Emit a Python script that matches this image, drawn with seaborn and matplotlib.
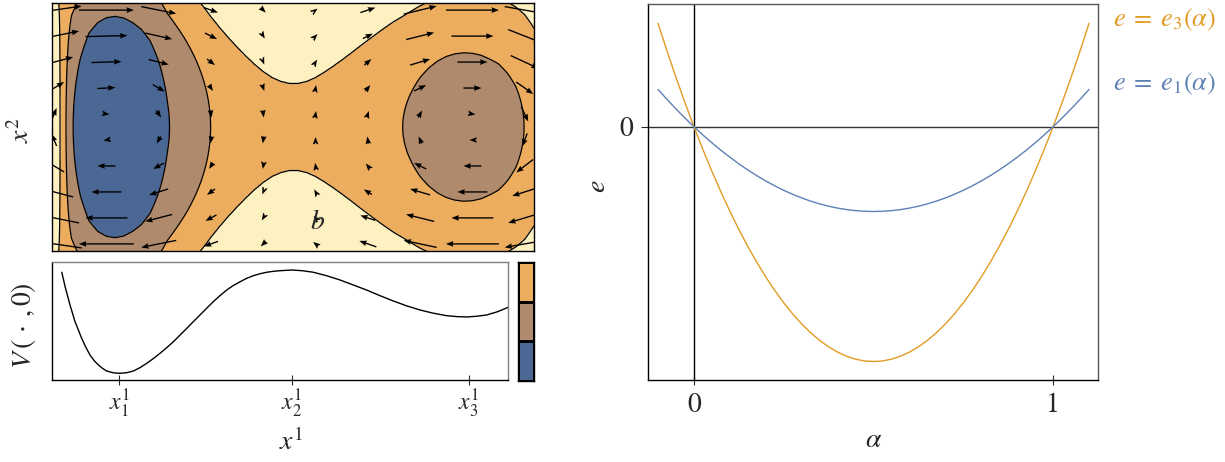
import numpy as np
import matplotlib
matplotlib.use("Agg")
import matplotlib.pyplot as plt
from matplotlib.colors import ListedColormap
import seaborn as sns

sns.set_style("ticks")
plt.rcParams['font.family'] = ['STIXGeneral', 'DejaVu Serif']
plt.rcParams['mathtext.fontset'] = 'stix'

# colours
c_blue, c_brown, c_orange, c_cream = '#4B6793', '#B08A6C', '#ECAD5F', '#FEF1C1'
c_e1, c_e3 = '#5E81B5', '#E19C24'

# top panel: V(x1, x2) ~ W(x1) + K(x1) * (x2)^2, read along x1
x1_nodes = np.round(np.arange(-1.40, 1.451, 0.05), 2)
W_nodes = [4.5, 3.0, 1.52, 0.085, -0.38, -0.72, -0.89, -0.975, -1.00, -0.97,
           -0.89, -0.78, -0.61, -0.35, -0.05, 0.16, 0.365, 0.575, 0.79, 1.01,
           1.195, 1.35, 1.48, 1.59, 1.68, 1.75, 1.80, 1.83, 1.845, 1.845,
           1.83, 1.80, 1.755, 1.70, 1.635, 1.56, 1.475, 1.385, 1.29, 1.19,
           1.09, 1.0, 0.90, 0.80, 0.715, 0.645, 0.594, 0.563, 0.55, 0.556,
           0.58, 0.624, 0.688, 0.772, 0.874, 1.01, 1.22, 1.40]
K_nodes = [-1.0, -0.8, 0.3, 1.125] + [1.25] * 48 + [1.2] * 6
levels = [-5, 0, 1, 2, 10]

# arrows (pixel lengths), rows top -> bottom
arrow_x1 = [-1.35, -1.05, -0.75, -0.45, -0.15, 0.15, 0.45, 0.75, 1.05, 1.35]
arrow_x2 = [0.945, 0.735, 0.525, 0.315, 0.105, -0.105, -0.315, -0.525, -0.735, -0.945]
U_px = [[55, 55, 35, 14, 5, 4, 15, 33, 53, 40],
        [50, 42, 27, 12, 3, 4, 10, 28, 42, 33],
        [38, 30, 20, 8, 2, 3, 7, 20, 30, 28],
        [20, 18, 12, 4, 2, 1, 5, 12, 18, 17],
        [5, 6, 5, 1, 1, 1, 2, 4, 6, 7],
        [-5, -6, -4, -1, -1, 0, -1, -3, -6, -5],
        [-20, -18, -11, -4, -1, -1, -4, -12, -18, -17],
        [-38, -30, -19, -8, -2, -3, -8, -20, -30, -25],
        [-50, -42, -27, -11, -3, -4, -15, -28, -42, -33],
        [-55, -55, -35, -14, -5, -5, -17, -33, -53, -40]]
V_px = [[8, 0, -7, -5, -5, 3, 5, 8, 0, -7],
        [10, 1, -6, -6, -5, 4, 5, 7, 0, -13],
        [10, 1, -5, -6, -5, 5, 6, 6, 0, -13],
        [12, 1, -7, -6, -6, 6, 6, 6, 0, -12],
        [12, -1, -7, -7, -7, 6, 6, 7, -1, -15],
        [12, -1, -7, -7, -7, 6, 7, 7, 0, -13],
        [12, 0, -6, -6, -6, 6, 5, 6, 0, -13],
        [10, 0, -6, -6, -5, 5, 5, 6, 0, -8],
        [10, 0, -7, -6, -5, 4, 5, 7, 0, -10],
        [8, 0, -7, -5, -5, 4, 6, 7, 0, -7]]

# bottom panel: V(., 0)
v0_x = [-1.306, -1.287, -1.259, -1.230, -1.192, -1.168, -1.144, -1.120, -1.096, -1.072,
        -1.048, -1.010, -0.972, -0.934, -0.896, -0.858, -0.819, -0.780, -0.742, -0.704,
        -0.666, -0.628, -0.589, -0.551, -0.513, -0.475, -0.437, -0.398, -0.360, -0.322,
        -0.283, -0.245, -0.207, -0.168, -0.130, -0.092, -0.054, 0.013, 0.075, 0.137,
        0.213, 0.290, 0.366, 0.443, 0.519, 0.596, 0.672, 0.749, 0.825, 0.902,
        0.960, 1.017, 1.075, 1.132, 1.194, 1.256]
v0_y = [0.911, 0.789, 0.635, 0.494, 0.354, 0.278, 0.213, 0.165, 0.129, 0.100,
        0.078, 0.063, 0.059, 0.064, 0.078, 0.106, 0.143, 0.184, 0.228, 0.275,
        0.325, 0.381, 0.438, 0.495, 0.551, 0.607, 0.663, 0.714, 0.761, 0.799,
        0.831, 0.860, 0.882, 0.899, 0.911, 0.919, 0.924, 0.930, 0.924, 0.911,
        0.882, 0.846, 0.804, 0.761, 0.714, 0.669, 0.628, 0.593, 0.566, 0.545,
        0.537, 0.534, 0.540, 0.551, 0.578, 0.616]
x1_ticks = [-0.976, 0.013, 1.030]
x1_ticklabels = [r'$x_1^1$', r'$x_2^1$', r'$x_3^1$']

# right panel: e1(alpha), e3(alpha)
alpha = [-0.100, -0.075, -0.050, -0.025, 0.000, 0.025, 0.050, 0.075, 0.100, 0.125,
         0.150, 0.175, 0.200, 0.225, 0.250, 0.275, 0.300, 0.325, 0.350, 0.375,
         0.400, 0.425, 0.450, 0.475, 0.500, 0.525, 0.550, 0.575, 0.600, 0.625,
         0.650, 0.675, 0.700, 0.725, 0.750, 0.775, 0.800, 0.825, 0.850, 0.875,
         0.900, 0.925, 0.950, 0.975, 1.000, 1.025, 1.050, 1.075, 1.100]
e1 = [0.1100, 0.0806, 0.0525, 0.0256, 0.0, -0.0244, -0.0475, -0.0694, -0.0900, -0.1094,
      -0.1275, -0.1444, -0.1600, -0.1744, -0.1875, -0.1994, -0.2100, -0.2194, -0.2275, -0.2344,
      -0.2400, -0.2444, -0.2475, -0.2494, -0.2500, -0.2494, -0.2475, -0.2444, -0.2400, -0.2344,
      -0.2275, -0.2194, -0.2100, -0.1994, -0.1875, -0.1744, -0.1600, -0.1444, -0.1275, -0.1094,
      -0.0900, -0.0694, -0.0475, -0.0244, 0.0, 0.0256, 0.0525, 0.0806, 0.1100]
e3 = [0.3047, 0.2233, 0.1454, 0.0710, 0.0, -0.0675, -0.1316, -0.1922, -0.2493, -0.3030,
      -0.3532, -0.3999, -0.4432, -0.4830, -0.5194, -0.5523, -0.5817, -0.6077, -0.6302, -0.6492,
      -0.6648, -0.6769, -0.6856, -0.6908, -0.6925, -0.6908, -0.6856, -0.6769, -0.6648, -0.6492,
      -0.6302, -0.6077, -0.5817, -0.5523, -0.5194, -0.4830, -0.4432, -0.3999, -0.3532, -0.3030,
      -0.2493, -0.1922, -0.1316, -0.0675, 0.0, 0.0710, 0.1454, 0.2233, 0.3047]

W_px, H_px = 1225, 462
fig = plt.figure(figsize=(W_px / 100, H_px / 100), dpi=100)


def box(x0, y0, x1, y1):
    return [x0 / W_px, 1 - y1 / H_px, (x1 - x0) / W_px, (y1 - y0) / H_px]


def ftext(x, y, s, **kw):
    fig.text(x / W_px, 1 - y / H_px, s, **kw)


# ---- top panel: contours + arrows
ax_top = fig.add_axes(box(51.7, 3.3, 534.3, 250.7))
x2_grid = np.linspace(-1.05, 1.05, 151)
X1, X2 = np.meshgrid(x1_nodes, x2_grid)
Z = np.array(W_nodes)[None, :] + np.array(K_nodes)[None, :] * X2 ** 2
ax_top.contourf(X1, X2, Z, levels=levels, colors=[c_blue, c_brown, c_orange, c_cream])
ax_top.contour(X1, X2, Z, levels=levels[1:4], colors='black', linewidths=0.9)
AX, AY = np.meshgrid(arrow_x1, arrow_x2)
ax_top.quiver(AX, AY, np.array(U_px) / 174.3, np.array(V_px) / 123.7,
              angles='xy', scale_units='xy', scale=1, pivot='middle',
              width=0.0028, headwidth=4.2, headlength=5.5, headaxislength=5.0,
              minlength=0, minshaft=0.6, color='black')
ax_top.set_xlim(-1.364, 1.405)
ax_top.set_ylim(-1, 1)
ax_top.set_xticks([])
ax_top.set_yticks([])
for sp in ax_top.spines.values():
    sp.set_color('black')
    sp.set_linewidth(1.0)

# ---- bottom panel: V(., 0)
ax_bot = fig.add_axes(box(51.7, 261.7, 508.3, 380.3))
sns.lineplot(x=v0_x, y=v0_y, ax=ax_bot, color='black', linewidth=1.0)
ax_bot.set_xlim(-1.364, 1.256)
ax_bot.set_ylim(0, 1)
ax_bot.set_yticks([])
ax_bot.set_xticks(x1_ticks)
ax_bot.set_xticklabels(x1_ticklabels, fontsize=17)
ax_bot.tick_params(axis='x', direction='inout', length=7, width=0.8, pad=2)
for name, sp in ax_bot.spines.items():
    sp.set_visible(True)
    sp.set_linewidth(1.0)
    sp.set_color('black' if name in ('left', 'bottom') else '#808080')

# ---- colour bar
ax_cb = fig.add_axes(box(518.3, 262.3, 534.3, 380.7))
sns.heatmap(np.array([[2], [1], [0]]), ax=ax_cb, cmap=ListedColormap([c_blue, c_brown, c_orange]),
            vmin=-0.5, vmax=2.5, cbar=False, linewidths=1.0, linecolor='black',
            xticklabels=False, yticklabels=False)
for sp in ax_cb.spines.values():
    sp.set_visible(True)
    sp.set_color('black')
    sp.set_linewidth(1.0)

ftext(22, 130, r'$x^2$', fontsize=20, rotation=90, ha='center', va='center')
ftext(24, 326, r'$V\,(\,\cdot\,,0)$', fontsize=20, rotation=90, ha='center', va='center')
ftext(291, 442, r'$x^1$', fontsize=20, ha='center', va='center')
ftext(318, 222, r'$b$', fontsize=20, ha='center', va='center')

# ---- right panel: e1, e3
ax_r = fig.add_axes(box(648, 4, 1098, 380))
ax_r.axvline(0, color='black', linewidth=1.0)
ax_r.axhline(0, color='#333333', linewidth=1.0)
sns.lineplot(x=alpha, y=e3, ax=ax_r, color=c_e3, linewidth=1.0)
sns.lineplot(x=alpha, y=e1, ax=ax_r, color=c_e1, linewidth=1.0)
ax_r.set_xlim(-0.128, 1.125)
ax_r.set_ylim(-0.747, 0.362)
ax_r.set_xticks([0, 1])
ax_r.set_xticklabels(['0', '1'], fontsize=20)
ax_r.set_yticks([0])
ax_r.set_yticklabels(['0'], fontsize=20)
ax_r.tick_params(axis='x', direction='inout', length=7, width=0.8, pad=6)
ax_r.tick_params(axis='y', direction='out', length=5, width=0.8, pad=6)
for name, sp in ax_r.spines.items():
    sp.set_visible(True)
    sp.set_linewidth(1.0)
    sp.set_color('black' if name in ('left', 'bottom') else '#555555')

ftext(598, 186, r'$e$', fontsize=20, rotation=90, ha='center', va='center')
ftext(874, 440, r'$\alpha$', fontsize=20, ha='center', va='center')
ftext(1113, 20, r'$e\;=\;e_3(\alpha)$', fontsize=19, color=c_e3, ha='left', va='center')
ftext(1113, 84, r'$e\;=\;e_1(\alpha)$', fontsize=19, color=c_e1, ha='left', va='center')

fig.savefig('out.png', dpi=100)
